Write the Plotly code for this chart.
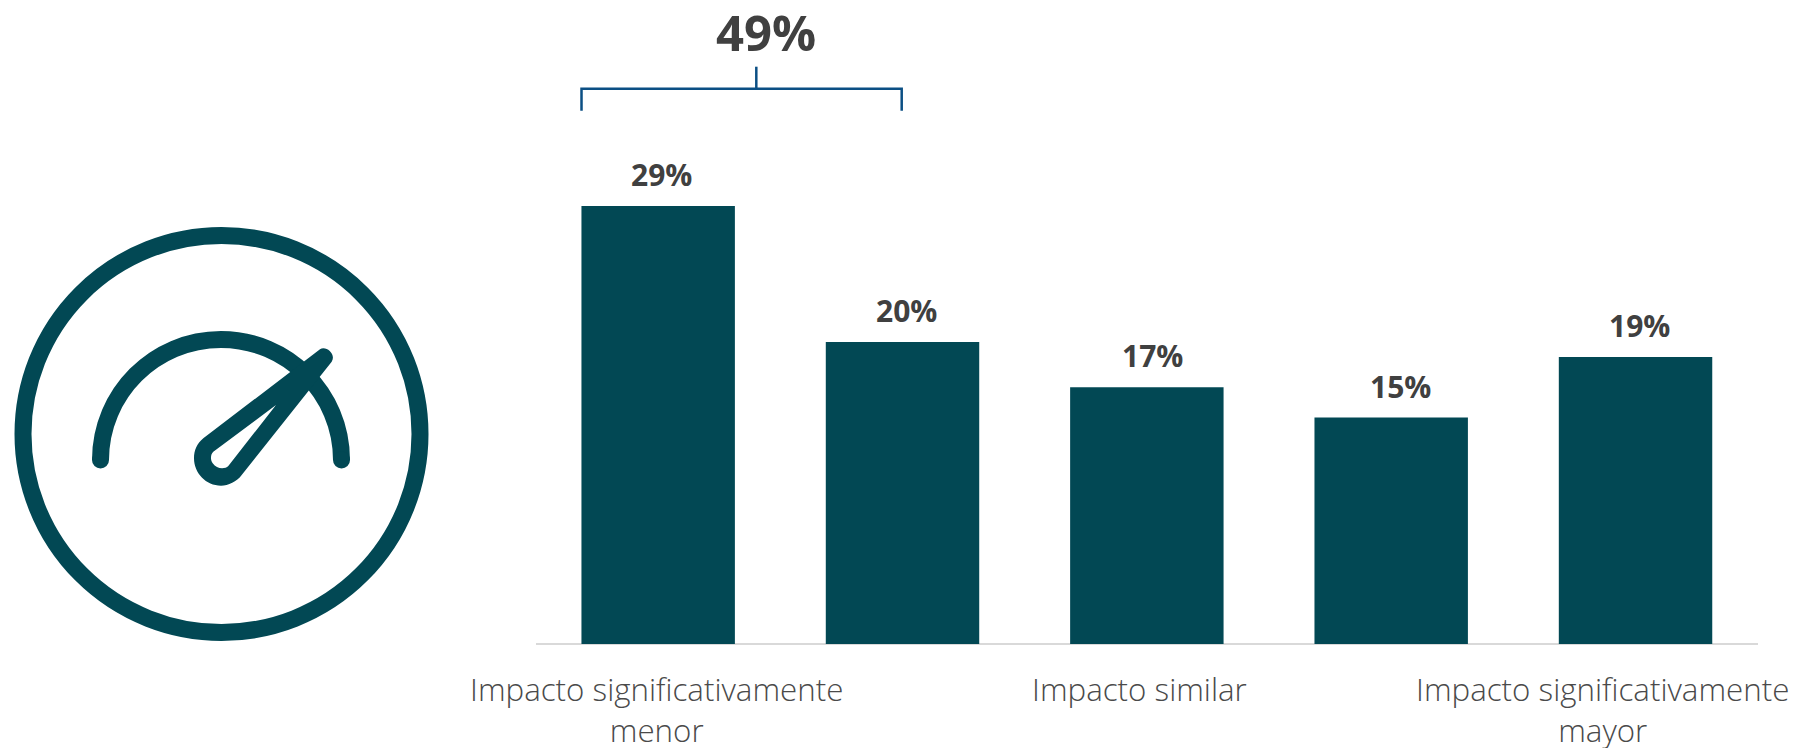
import plotly.graph_objects as go

W, H = 1795, 748

# Survey shares per answer step
steps = [1, 2, 3, 4, 5]
shares = [29, 20, 17, 15, 19]
bracket_total = "49%"
scale_labels = ["Impacto significativamente<br>menor", "Impacto similar", "Impacto significativamente<br>mayor"]
scale_label_x = [656, 1139.5, 1602]
share_label_nudge = [3, 4, 6, 9, 4]

TEAL = "#024854"
TEXT = "#404040"
LABEL = "#4A4A4A"
BLUE = "#0B4F84"
FONT = "Open Sans"


def px(x):
    return x / W


def py(y):
    return 1 - y / H


def path(*cmds):
    # Commands are written as (letter, x, y, x, y, ...) in page pixels
    out = []
    for c in cmds:
        nums = c[1:]
        pts = [f"{px(nums[i]):.5f},{py(nums[i + 1]):.5f}" for i in range(0, len(nums), 2)]
        out.append(c[0] + " ".join(pts))
    return " ".join(out)


def ring(cx, cy, r, **kw):
    return dict(type="circle", xref="paper", yref="paper",
                x0=px(cx - r), x1=px(cx + r), y0=py(cy + r), y1=py(cy - r), **kw)


def stroke(d, color, width):
    return dict(type="path", xref="paper", yref="paper", path=d,
                line=dict(color=color, width=width), fillcolor="rgba(0,0,0,0)")


fig = go.Figure(go.Bar(x=steps, y=shares, marker=dict(color=TEAL, line=dict(width=0)),
                       hoverinfo="skip", showlegend=False))

shapes = []

# Gauge icon: outer ring
shapes.append(ring(221.5, 434, 198.5, line=dict(color=TEAL, width=17), fillcolor="rgba(0,0,0,0)"))

# Gauge icon: dial arc with rounded ends
k = 120.5 * 0.5523
cx, cy, r = 221, 460, 120.5
shapes.append(stroke(path(("M", cx - r, cy),
                          ("C", cx - r, cy - k, cx - k, cy - r, cx, cy - r),
                          ("C", cx + k, cy - r, cx + r, cy - k, cx + r, cy)), TEAL, 17))
for end_x in (cx - r, cx + r):
    shapes.append(ring(end_x, cy, 8.5, line=dict(width=0), fillcolor=TEAL))

# Gauge icon: needle outline with its inner cut-out
needle = path(("M", 203.3, 438.3), ("L", 320, 349.3),
              ("C", 325, 345, 336.7, 353.3, 331.7, 361.7),
              ("L", 241.7, 475),
              ("C", 236.7, 481.7, 228.3, 485.7, 221, 485.7),
              ("C", 206, 485.7, 194, 473.3, 194, 458.3),
              ("C", 194, 450, 197.3, 443.3, 203.3, 438.3), ("Z",))
hole = path(("M", 213.3, 451.7), ("L", 276, 405), ("L", 228.3, 466),
            ("C", 225, 469.3, 216.7, 469.3, 212.7, 463.3),
            ("C", 210, 459.3, 210.7, 454, 213.3, 451.7), ("Z",))
shapes.append(dict(type="path", xref="paper", yref="paper", path=needle + " " + hole,
                   fillrule="evenodd", fillcolor=TEAL, line=dict(width=0)))

# Bracket above the first two bars
shapes.append(stroke(path(("M", 581.5, 110.7), ("L", 581.5, 88.7), ("L", 901.7, 88.7), ("L", 901.7, 110.7)), BLUE, 2.5))
shapes.append(stroke(path(("M", 756.3, 66.7), ("L", 756.3, 88.7)), BLUE, 2.5))

annotations = []
for step, share, nudge in zip(steps, shares, share_label_nudge):
    annotations.append(dict(x=step, y=share, xref="x", yref="y", text=f"{share}%", showarrow=False,
                            xanchor="center", yanchor="bottom", xshift=nudge, yshift=9,
                            font=dict(family=FONT, size=30, color=TEXT, weight=700)))

annotations.append(dict(x=px(766), y=py(32), xref="paper", yref="paper", text=bracket_total, showarrow=False,
                        xanchor="center", yanchor="middle",
                        font=dict(family=FONT, size=49, color=TEXT, weight=700)))

for label, lx in zip(scale_labels, scale_label_x):
    annotations.append(dict(x=px(lx), y=py(666), xref="paper", yref="paper", text=label, showarrow=False,
                            xanchor="center", yanchor="top", align="center",
                            font=dict(family=FONT, size=31.3, color=LABEL, weight=300)))

fig.update_layout(
    width=W, height=H, autosize=False,
    margin=dict(l=0, r=0, t=0, b=0),
    paper_bgcolor="white", plot_bgcolor="white",
    bargap=0.372, showlegend=False,
    shapes=shapes, annotations=annotations,
    xaxis=dict(domain=[536 / W, 1757.7 / W], range=[0.5, 5.5], showgrid=False, zeroline=False,
               showticklabels=False, ticks="", showline=False, fixedrange=True),
    yaxis=dict(domain=[(H - 644) / H, 1], range=[0, 644 / 15.1], showgrid=False, zeroline=True,
               zerolinecolor="#D9D9D9", zerolinewidth=1.5,
               showticklabels=False, ticks="", showline=False, fixedrange=True),
)

fig.write_html("out.html", config=dict(displayModeBar=False))
